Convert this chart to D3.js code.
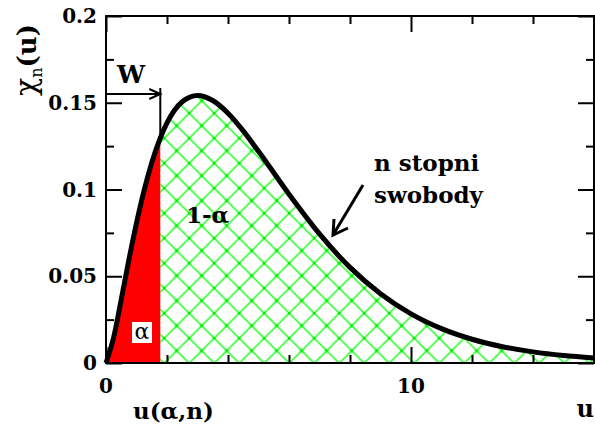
<!DOCTYPE html>
<html>
<head>
<meta charset="utf-8">
<script src="https://cdn.jsdelivr.net/npm/d3@7"></script>
<style>
    html, body { margin: 0; padding: 0; background: #fff; }
    svg { display: block; }
    text { font-family: "DejaVu Serif", "Liberation Serif", serif; font-weight: bold; fill: #000; }
</style>
</head>
<body>
<svg id="chart" width="595" height="426"></svg>
<script>
// wartości (u, chi_n(u))
const uValues = [0, 0.25, 0.5, 0.75, 1, 1.25, 1.5, 1.78, 2, 2.5, 3, 3.5, 4, 4.5, 5, 6, 7, 8, 9, 10, 11, 12, 13, 14, 15, 16];
const chiValues = [0, 0.0147, 0.0366, 0.0594, 0.0807, 0.0995, 0.1154, 0.1297, 0.1384, 0.1506, 0.1542, 0.1513, 0.144, 0.1338, 0.122, 0.0973, 0.0744, 0.0551, 0.0399, 0.0283, 0.0198, 0.0137, 0.0094, 0.0064, 0.0043, 0.0029];
const uAlpha = 1.78; // u(alpha, n)
const xMajor = [0, 10];
const xMinor = [2, 4, 6, 8, 12, 14];
const yMajor = [0, 0.05, 0.1, 0.15, 0.2];
const yMajorLabels = ['0', '0.05', '0.1', '0.15', '0.2'];
const yMinor = [0.025, 0.075, 0.125, 0.175];

const svg = d3.select('#chart');
const frame = { left: 106, right: 594, top: 16, bottom: 363 };

const x = d3.scaleLinear().domain([0, 16]).range([frame.left, frame.right]);
const y = d3.scaleLinear().domain([0, 0.2]).range([frame.bottom, frame.top]);

const data = uValues.map((u, i) => ({ u: u, v: chiValues[i] }));

// wzór kratki
const defs = svg.append('defs');
const pat = defs.append('pattern')
    .attr('id', 'hatch')
    .attr('patternUnits', 'userSpaceOnUse')
    .attr('width', 25).attr('height', 25)
    .attr('x', 1.7).attr('y', 0.7);
pat.append('path')
    .attr('d', 'M0 0 L25 25 M0 25 L25 0 M-2 2 L2 -2 M23 27 L27 23 M-2 23 L2 27 M23 -2 L27 2')
    .attr('stroke', '#00ff00')
    .attr('stroke-width', 1.3)
    .attr('fill', 'none');
[[0, 0], [25, 0], [0, 25], [25, 25], [12.5, 12.5]].forEach(p => {
    pat.append('rect')
        .attr('x', p[0] - 1.5).attr('y', p[1] - 1.5)
        .attr('width', 3).attr('height', 3)
        .attr('fill', '#00ee00');
});

const area = d3.area()
    .x(d => x(d.u))
    .y0(y(0))
    .y1(d => y(d.v))
    .curve(d3.curveMonotoneX);

svg.append('path')
    .datum(data.filter(d => d.u >= uAlpha))
    .attr('fill', 'url(#hatch)')
    .attr('d', area);

svg.append('path')
    .datum(data.filter(d => d.u <= uAlpha))
    .attr('fill', '#ff0000')
    .attr('d', area);

// krzywa
const line = d3.line()
    .x(d => x(d.u))
    .y(d => y(d.v))
    .curve(d3.curveMonotoneX);

svg.append('path')
    .datum(data)
    .attr('fill', 'none')
    .attr('stroke', '#000')
    .attr('stroke-width', 5)
    .attr('stroke-linejoin', 'round')
    .attr('d', line);

// osie (znaczniki do wewnątrz)
function tickAxis(axis, tx, ty, values, size) {
    const g = svg.append('g')
        .attr('transform', `translate(${tx},${ty})`)
        .call(axis.tickValues(values).tickSize(size).tickFormat(''));
    g.select('.domain').remove();
    g.selectAll('.tick line').attr('stroke', '#000').attr('stroke-width', 2);
    return g;
}
tickAxis(d3.axisTop(x), 0, frame.bottom, xMajor, 16);
tickAxis(d3.axisTop(x), 0, frame.bottom, xMinor, 8);
tickAxis(d3.axisBottom(x), 0, frame.top, xMajor, 16);
tickAxis(d3.axisBottom(x), 0, frame.top, xMinor, 8);
tickAxis(d3.axisRight(y), frame.left, 0, yMajor, 16);
tickAxis(d3.axisRight(y), frame.left, 0, yMinor, 8);
tickAxis(d3.axisLeft(y), frame.right, 0, yMajor, 16);
tickAxis(d3.axisLeft(y), frame.right, 0, yMinor, 8);

svg.append('rect')
    .attr('x', frame.left).attr('y', frame.top)
    .attr('width', frame.right - frame.left).attr('height', frame.bottom - frame.top)
    .attr('fill', 'none')
    .attr('stroke', '#000')
    .attr('stroke-width', 2);

// etykiety osi
svg.append('g').selectAll('text')
    .data(yMajor)
    .join('text')
    .attr('x', 97)
    .attr('y', d => y(d) + 7)
    .attr('text-anchor', 'end')
    .attr('font-size', 20)
    .text((d, i) => yMajorLabels[i]);

svg.append('g').selectAll('text')
    .data(xMajor)
    .join('text')
    .attr('x', d => x(d))
    .attr('y', 393)
    .attr('text-anchor', 'middle')
    .attr('font-size', 20)
    .text(d => d);

const yTitle = svg.append('text')
    .attr('transform', 'translate(36,60) rotate(-90)')
    .attr('text-anchor', 'middle')
    .attr('font-size', 26);
yTitle.append('tspan').attr('font-size', 30).style('font-weight', 'normal').text('χ');
yTitle.append('tspan').attr('font-size', 16).attr('dy', 6).style('font-weight', 'normal').text('n');
yTitle.append('tspan').attr('dy', -6).text('(u)');

svg.append('text')
    .attr('x', 133).attr('y', 419)
    .attr('font-size', 23)
    .text('u(α,n)');

svg.append('text')
    .attr('x', 594).attr('y', 417)
    .attr('text-anchor', 'end')
    .attr('font-size', 24)
    .text('u');

// W i strzałka
svg.append('text')
    .attr('x', 117).attr('y', 83)
    .attr('font-size', 25)
    .text('W');

const xa = x(uAlpha);
const arrowW = svg.append('g').attr('stroke', '#000').attr('stroke-width', 2).attr('fill', 'none');
arrowW.append('line').attr('x1', frame.left).attr('y1', 94).attr('x2', xa).attr('y2', 94);
arrowW.append('path').attr('d', `M${xa - 11} 89 L${xa} 94 L${xa - 11} 99`);
arrowW.append('line').attr('x1', xa).attr('y1', 88).attr('x2', xa).attr('y2', y(0.1297));

// etykiety pól
svg.append('rect')
    .attr('x', 132).attr('y', 322)
    .attr('width', 20).attr('height', 21)
    .attr('fill', '#fff');
svg.append('text')
    .attr('x', 142).attr('y', 339)
    .attr('text-anchor', 'middle')
    .attr('font-size', 22)
    .style('font-weight', 'normal')
    .text('α');

svg.append('text')
    .attr('x', 186).attr('y', 223)
    .attr('font-size', 23)
    .text('1-α');

// n stopni swobody
svg.append('text')
    .attr('x', 374).attr('y', 171)
    .attr('font-size', 23)
    .text('n stopni');
svg.append('text')
    .attr('x', 374).attr('y', 203)
    .attr('font-size', 23)
    .text('swobody');

const arrowN = svg.append('g').attr('stroke', '#000').attr('stroke-width', 3).attr('fill', 'none');
arrowN.append('line').attr('x1', 363).attr('y1', 185).attr('x2', 333).attr('y2', 235);
arrowN.append('path').attr('d', 'M334 219 L333 235 L348 228');
</script>
</body>
</html>
